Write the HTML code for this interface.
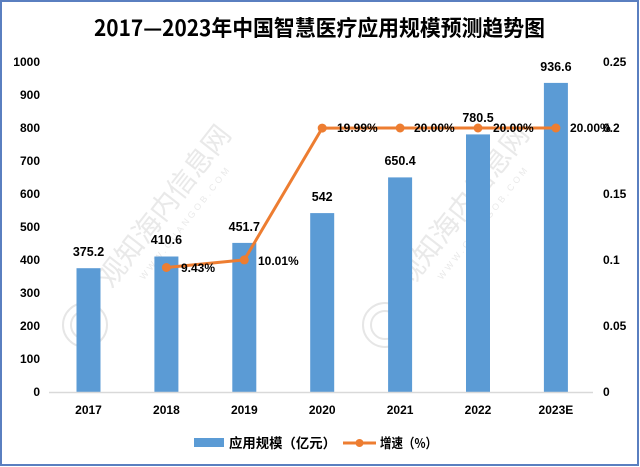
<!DOCTYPE html>
<html><head><meta charset="utf-8"><style>
html,body{margin:0;padding:0;background:#fff;}
svg{display:block;}
text{font-family:"Liberation Sans","Noto Sans CJK SC",sans-serif;font-weight:bold;fill:#000;}
.cj{font-family:"Noto Sans CJK SC","Liberation Sans",sans-serif;}
</style></head><body>
<svg width="640" height="467" viewBox="0 0 640 467" xmlns="http://www.w3.org/2000/svg">
<rect x="0" y="0" width="640" height="467" fill="#fff"/>
<!-- border -->
<rect x="1" y="1" width="637" height="464" fill="none" stroke="#5a7fc0" stroke-width="2"/>

<!-- watermarks -->
<g fill="none" stroke="#e6e6e6" stroke-width="2">
<circle cx="85" cy="325" r="22"/><circle cx="85" cy="325" r="14"/>
<circle cx="385" cy="325" r="22"/><circle cx="385" cy="325" r="14"/>
</g>
<g transform="translate(172,212) rotate(-52)">
<text class="cj" x="0" y="0" text-anchor="middle" font-size="28" style="fill:#e9e9e9;font-weight:normal">观知海内信息网</text>
<text x="0" y="20" text-anchor="middle" font-size="9" style="fill:#e9e9e9;font-weight:normal" letter-spacing="3">WWW.GUANGOB.COM</text>
</g>
<g transform="translate(470,212) rotate(-52)">
<text class="cj" x="0" y="0" text-anchor="middle" font-size="28" style="fill:#e9e9e9;font-weight:normal">观知海内信息网</text>
<text x="0" y="20" text-anchor="middle" font-size="9" style="fill:#e9e9e9;font-weight:normal" letter-spacing="3">WWW.GUANGOB.COM</text>
</g>

<!-- title -->
<text class="cj" x="94" y="36" font-size="22" textLength="451" lengthAdjust="spacingAndGlyphs">2017—2023年中国智慧医疗应用规模预测趋势图</text>

<!-- left axis labels -->
<g font-size="12" text-anchor="end">
<text x="40" y="66">1000</text>
<text x="40" y="99">900</text>
<text x="40" y="132">800</text>
<text x="40" y="165">700</text>
<text x="40" y="198">600</text>
<text x="40" y="231">500</text>
<text x="40" y="264">400</text>
<text x="40" y="297">300</text>
<text x="40" y="330">200</text>
<text x="40" y="363">100</text>
<text x="40" y="396">0</text>
</g>
<!-- right axis labels -->
<g font-size="12">
<text x="603" y="66">0.25</text>
<text x="603" y="132">0.2</text>
<text x="603" y="198">0.15</text>
<text x="603" y="264">0.1</text>
<text x="603" y="330">0.05</text>
<text x="603" y="396">0</text>
</g>

<!-- bars -->
<g fill="#5b9bd5">
<rect x="76.5" y="268.2" width="24" height="123.8"/>
<rect x="154.4" y="256.5" width="24" height="135.5"/>
<rect x="232.3" y="242.9" width="24" height="149.1"/>
<rect x="310.2" y="213.1" width="24" height="178.9"/>
<rect x="388.1" y="177.4" width="24" height="214.6"/>
<rect x="466.0" y="134.4" width="24" height="257.6"/>
<rect x="543.9" y="82.9" width="24" height="309.1"/>
</g>
<!-- axis line -->
<line x1="49" y1="392.5" x2="593" y2="392.5" stroke="#d9d9d9" stroke-width="1.5"/>

<!-- bar labels -->
<g font-size="12.5" text-anchor="middle">
<text x="88.5" y="256">375.2</text>
<text x="166.4" y="244">410.6</text>
<text x="244.3" y="231">451.7</text>
<text x="322.2" y="201">542</text>
<text x="400.1" y="165">650.4</text>
<text x="478.0" y="122">780.5</text>
<text x="555.9" y="71">936.6</text>
</g>

<!-- line -->
<polyline points="166.4,267.5 244.3,259.9 322.2,128.1 400.1,128 478.0,128 555.9,128" fill="none" stroke="#ed7d31" stroke-width="3" stroke-linejoin="round"/>
<g fill="#ed7d31">
<circle cx="166.4" cy="267.5" r="4.5"/>
<circle cx="244.3" cy="259.9" r="4.5"/>
<circle cx="322.2" cy="128.1" r="4.5"/>
<circle cx="400.1" cy="128" r="4.5"/>
<circle cx="478.0" cy="128" r="4.5"/>
<circle cx="555.9" cy="128" r="4.5"/>
</g>
<g font-size="12">
<text x="181" y="272">9.43%</text>
<text x="258" y="265">10.01%</text>
<text x="337" y="132">19.99%</text>
<text x="414" y="132">20.00%</text>
<text x="493" y="132">20.00%</text>
<text x="570" y="132">20.00%</text>
</g>

<!-- category labels -->
<g font-size="12" text-anchor="middle">
<text x="88.5" y="414">2017</text>
<text x="166.4" y="414">2018</text>
<text x="244.3" y="414">2019</text>
<text x="322.2" y="414">2020</text>
<text x="400.1" y="414">2021</text>
<text x="478.0" y="414">2022</text>
<text x="555.9" y="414">2023E</text>
</g>

<!-- legend -->
<rect x="194" y="438" width="30" height="9" fill="#5b9bd5"/>
<text class="cj" x="229" y="448" font-size="13.5" textLength="107" lengthAdjust="spacingAndGlyphs">应用规模（亿元）</text>
<line x1="343" y1="443" x2="376" y2="443" stroke="#ed7d31" stroke-width="3"/>
<circle cx="359.5" cy="443" r="4" fill="#ed7d31"/>
<text class="cj" x="380" y="448" font-size="13.5" textLength="57" lengthAdjust="spacingAndGlyphs">增速（%）</text>
</svg>
</body></html>
